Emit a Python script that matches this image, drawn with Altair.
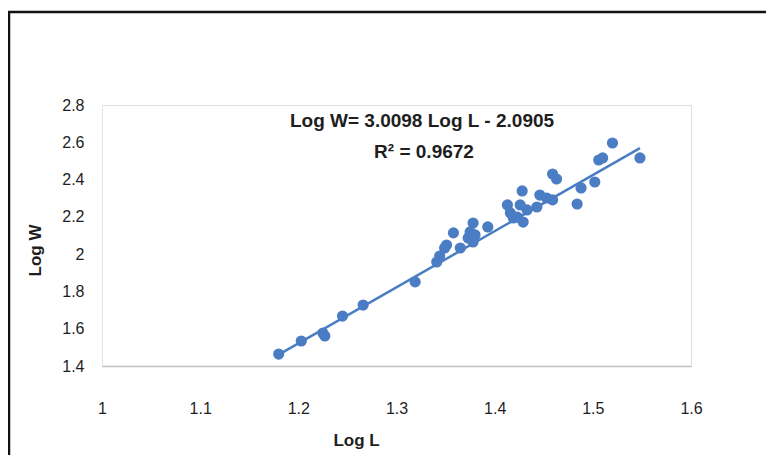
import altair as alt
import pandas as pd

# Scatter data
log_l = [1.180, 1.203, 1.225, 1.227, 1.245, 1.266, 1.319, 1.341, 1.344, 1.349,
         1.351, 1.358, 1.365, 1.373, 1.378, 1.380, 1.378, 1.393, 1.413, 1.416,
         1.419, 1.423, 1.428, 1.429, 1.433, 1.443, 1.446, 1.453, 1.459, 1.463,
         1.459, 1.484, 1.488, 1.502, 1.506, 1.510, 1.520, 1.548, 1.375, 1.426]
log_w = [1.464, 1.534, 1.577, 1.561, 1.668, 1.727, 1.851, 1.958, 1.990, 2.033,
         2.049, 2.114, 2.033, 2.087, 2.167, 2.103, 2.065, 2.146, 2.264, 2.221,
         2.194, 2.199, 2.339, 2.172, 2.237, 2.253, 2.317, 2.301, 2.430, 2.403,
         2.291, 2.269, 2.355, 2.387, 2.505, 2.516, 2.596, 2.516, 2.119, 2.264]

# Trendline coefficients (as printed on the chart)
slope = 3.0098
intercept = -2.0905

x_ticks = [1.0, 1.1, 1.2, 1.3, 1.4, 1.5, 1.6]
y_ticks = [1.4, 1.6, 1.8, 2.0, 2.2, 2.4, 2.6, 2.8]

eq_text = "Log W= 3.0098 Log L - 2.0905"
r2_text = "R\u00b2 = 0.9672"

BLUE = "#4a7dc4"
FONT = "Liberation Sans"

df = pd.DataFrame({"LogL": log_l, "LogW": log_w})
line_x = [min(log_l), max(log_l)]
line_df = pd.DataFrame({"LogL": line_x, "LogW": [slope * v + intercept for v in line_x]})

xscale = alt.Scale(domain=[1.0, 1.6], nice=False, zero=False)
yscale = alt.Scale(domain=[1.4, 2.8], nice=False, zero=False)

xaxis = alt.Axis(values=x_ticks, format="~g", grid=False, ticks=False,
                 labelOverlap=False, labelFlush=False,
                 domainColor="#c0c0c0", domainWidth=1.5,
                 labelFont=FONT, labelFontSize=16, labelColor="#1e1e1e",
                 labelPadding=34, title="Log L", titleFont=FONT,
                 titleFontSize=17, titleFontWeight="bold", titleColor="#1e1e1e",
                 titleX=254, titleY=74, titleBaseline="middle")
yaxis = alt.Axis(values=y_ticks, format="~g", grid=False, ticks=False,
                 labelOverlap=False, labelFlush=False, labelBound=False,
                 labelSeparation=0,
                 domainColor="#e4e4e4", domainWidth=1,
                 labelFont=FONT, labelFontSize=16, labelColor="#1e1e1e",
                 labelPadding=18, title="Log W", titleFont=FONT,
                 titleFontSize=17, titleFontWeight="bold", titleColor="#1e1e1e",
                 titleX=-67, titleY=145, titleBaseline="middle", titleAngle=-90)

frame = alt.Chart(pd.DataFrame({"a": [0]})).mark_rect(
    fill=None, stroke="#111111", strokeWidth=2.5, clip=False
).encode(x=alt.value(-93), x2=alt.value(720), y=alt.value(-93), y2=alt.value(440))

trend = alt.Chart(line_df).mark_line(color=BLUE, strokeWidth=2.5).encode(
    x=alt.X("LogL:Q", scale=xscale, axis=xaxis),
    y=alt.Y("LogW:Q", scale=yscale, axis=yaxis),
)

points = alt.Chart(df).mark_circle(color=BLUE, opacity=1, size=125).encode(
    x=alt.X("LogL:Q", scale=xscale, axis=xaxis),
    y=alt.Y("LogW:Q", scale=yscale, axis=yaxis),
)

eq = alt.Chart(pd.DataFrame({"t": [eq_text]})).mark_text(
    font=FONT, fontSize=19, fontWeight="bold", color="#1e1e1e", align="center", baseline="middle"
).encode(text="t:N", x=alt.value(320), y=alt.value(16))
r2 = alt.Chart(pd.DataFrame({"t": [r2_text]})).mark_text(
    font=FONT, fontSize=19, fontWeight="bold", color="#1e1e1e", align="center", baseline="middle"
).encode(text="t:N", x=alt.value(322), y=alt.value(47))

chart = alt.layer(frame, trend, points, eq, r2).properties(
    width=589, height=261,
    autosize=alt.AutoSizeParams(type="none"),
    padding={"left": 94, "top": 97, "right": 75, "bottom": 95},
).configure_view(stroke=None).configure_axis(labelOverlap=False).configure(background="white")

chart.save("out.html", embed_options={"renderer": "svg", "actions": False})
